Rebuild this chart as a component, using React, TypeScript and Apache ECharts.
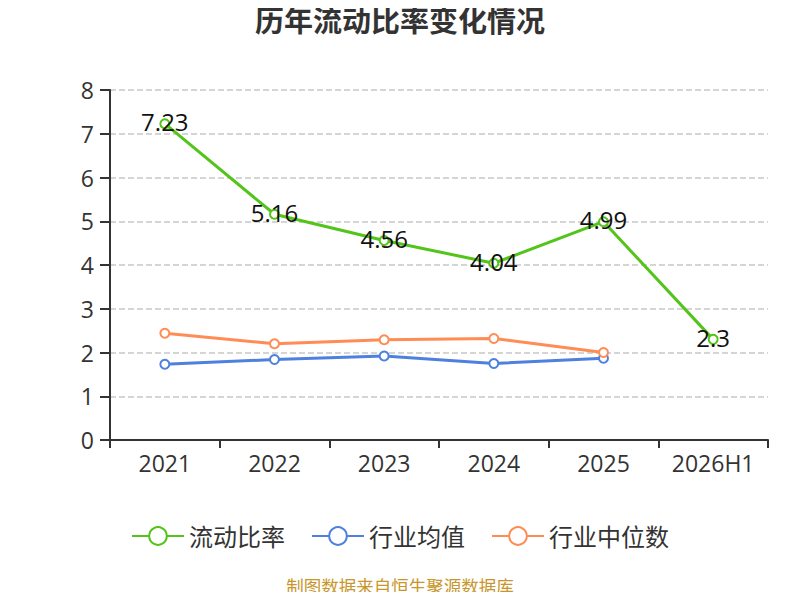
import React, { useEffect, useRef } from "react";
import * as echarts from "echarts";

const categories = ["2021", "2022", "2023", "2024", "2025", "2026H1"];
const currentRatio = [7.23, 5.16, 4.56, 4.04, 4.99, 2.3];
const industryMean = [1.73, 1.84, 1.92, 1.75, 1.87, null];
const industryMedian = [2.44, 2.2, 2.29, 2.32, 2.0, null];

export default function App() {
  const ref = useRef<HTMLDivElement>(null);
  useEffect(() => {
    if (!ref.current) return;
    const chart = echarts.init(ref.current, undefined, { renderer: "svg" });
    const font = "'Open Sans', 'Noto Sans CJK SC', sans-serif";
    chart.setOption({
      animation: false,
      textStyle: { fontFamily: font },
      title: {
        text: "历年流动比率变化情况",
        left: "center",
        top: 1,
        textStyle: { fontSize: 29, fontWeight: "bold", color: "#333", fontFamily: font },
      },
      grid: { left: 110, right: 32, top: 90, bottom: 160 },
      xAxis: {
        type: "category",
        data: categories,
        axisLine: { lineStyle: { color: "#333", width: 2 } },
        axisTick: { show: true, length: 8, lineStyle: { color: "#333", width: 2 } },
        axisLabel: { fontSize: 23, color: "#333", margin: 11 },
      },
      yAxis: {
        type: "value",
        min: 0,
        max: 8,
        interval: 1,
        axisLine: { show: true, lineStyle: { color: "#333", width: 2 } },
        axisTick: { show: true, length: 10, lineStyle: { color: "#333", width: 2 } },
        axisLabel: { fontSize: 23, color: "#333", margin: 16 },
        splitLine: { lineStyle: { type: "dashed", color: "#c8c8c8", width: 1.5 } },
      },
      legend: {
        top: 519,
        left: "center",
        itemWidth: 52,
        itemHeight: 22,
        itemGap: 26,
        textStyle: { fontSize: 24, color: "#333" },
        data: ["流动比率", "行业均值", "行业中位数"],
      },
      graphic: [
        {
          type: "text",
          x: 400,
          y: 586,
          style: {
            text: "制图数据来自恒生聚源数据库",
            fill: "#c8962b",
            fontSize: 17.5,
            fontFamily: font,
            align: "center",
            verticalAlign: "middle",
          },
        },
      ],
      series: [
        {
          name: "流动比率",
          type: "line",
          data: currentRatio,
          color: "#52c41a",
          symbol: "emptyCircle",
          symbolSize: 9,
          lineStyle: { width: 3 },
          label: { show: true, position: "inside", offset: [0, -2], fontSize: 24, color: "#111" },
          z: 3,
        },
        {
          name: "行业均值",
          type: "line",
          data: industryMean,
          color: "#4e80e0",
          symbol: "emptyCircle",
          symbolSize: 9,
          lineStyle: { width: 3 },
        },
        {
          name: "行业中位数",
          type: "line",
          data: industryMedian,
          color: "#ff8c55",
          symbol: "emptyCircle",
          symbolSize: 9,
          lineStyle: { width: 3 },
        },
      ],
    });
    return () => chart.dispose();
  }, []);
  return <div ref={ref} style={{ width: 800, height: 600, margin: -8 }} />;
}
